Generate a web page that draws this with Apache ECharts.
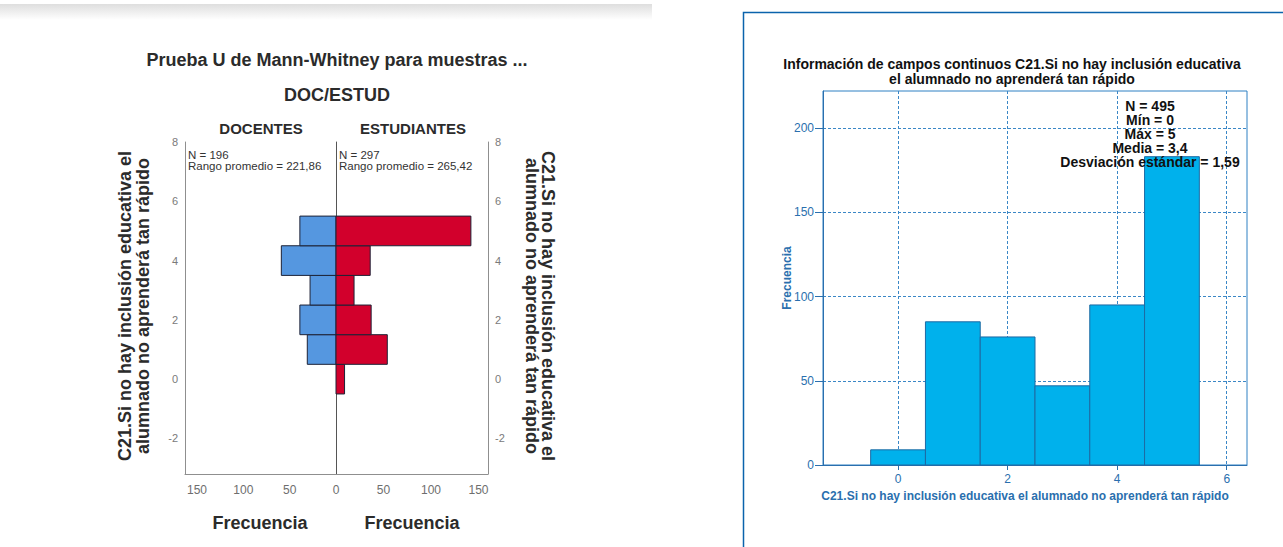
<!DOCTYPE html>
<html><head><meta charset="utf-8">
<script src="https://cdn.jsdelivr.net/npm/echarts@6/dist/echarts.min.js"></script>
<style>html,body{margin:0;padding:0;background:#fff}#c{width:1283px;height:547px}</style>
</head><body><div id="c"></div>
<script>
// ---- data ----
const values = [0, 1, 2, 3, 4, 5];
const docentes = [0, 31, 39, 28, 59, 39];
const estudiantes = [9, 54, 37, 19, 36, 142];
const histCounts = [9, 85, 76, 47, 95, 183];
const pyrFreqTicks = [0, 50, 100, 150];
const pyrValueTicks = [-2, 0, 2, 4, 6, 8];
const histXTicks = [0, 2, 4, 6];
const histYTicks = [0, 50, 100, 150, 200];
const statsLines = ['N = 495', 'Mín = 0', 'Máx = 5', 'Media = 3,4', 'Desviación estándar = 1,59'];
const groupNames = ['DOCENTES', 'ESTUDIANTES'];
const groupStats = ['N = 196\nRango promedio = 221,86', 'N = 297\nRango promedio = 265,42'];
const varName = 'C21.Si no hay inclusión educativa el alumnado no aprenderá tan rápido';

const FF = '"Liberation Sans", Arial, Helvetica, sans-serif';
const chart = echarts.init(document.getElementById('c'), null, {renderer: 'svg'});

function pyrRender(fill) {
  return function (params, api) {
    const v = api.value(0), c = api.value(1);
    if (!v) return;
    const a = api.coord([0, c - 0.5]);
    const b = api.coord([v, c + 0.5]);
    return {type: 'rect', shape: {x: Math.min(a[0], b[0]), y: Math.min(a[1], b[1]),
      width: Math.abs(b[0] - a[0]), height: Math.abs(b[1] - a[1])},
      style: {fill: fill, stroke: '#1d2236', lineWidth: 1}};
  };
}
function histRender(params, api) {
  const c = api.value(0), v = api.value(1);
  if (!v) return;
  const a = api.coord([c - 0.5, 0]);
  const b = api.coord([c + 0.5, v]);
  return {type: 'rect', shape: {x: Math.min(a[0], b[0]), y: Math.min(a[1], b[1]),
    width: Math.abs(b[0] - a[0]), height: Math.abs(b[1] - a[1])},
    style: {fill: '#00b1ec', stroke: '#1d6aa3', lineWidth: 1}};
}

function txt(text, x, y, font, fill, extra) {
  return Object.assign({type: 'text', x: x, y: y, silent: true,
    style: Object.assign({text: text, x: 0, y: 0, font: font, fill: fill,
      align: 'center', verticalAlign: 'middle', textAlign: 'center', textVerticalAlign: 'middle'}, extra && extra.style || {})},
    extra && extra.el || {});
}

const gray = '#8f8f8f';
const blue = '#2a6fae';
const nameLines = 'C21.Si no hay inclusión educativa el\nalumnado no aprenderá tan rápido';

const option = {
  animation: false,
  grid: [
    {left: 185, top: 142, width: 151, height: 332},
    {left: 336, top: 142, width: 152, height: 332},
    {left: 823, top: 91, width: 424, height: 374, show: true, borderColor: '#2f80c3', borderWidth: 1}
  ],
  xAxis: [
    {gridIndex: 0, type: 'value', inverse: true, min: 0, max: 163,
      axisLine: {show: true, onZero: false, lineStyle: {color: gray}}, axisTick: {show: false}, splitLine: {show: false},
      axisLabel: {customValues: pyrFreqTicks, color: '#6e6e6e', fontSize: 12, margin: 10, fontFamily: FF}},
    {gridIndex: 1, type: 'value', min: 0, max: 160,
      axisLine: {show: true, onZero: false, lineStyle: {color: gray}}, axisTick: {show: false}, splitLine: {show: false},
      axisLabel: {customValues: pyrFreqTicks.slice(1), color: '#6e6e6e', fontSize: 12, margin: 10, fontFamily: FF}},
    {gridIndex: 2, type: 'value', min: -1.37, max: 6.37,
      axisLine: {show: true, onZero: false, lineStyle: {color: blue}},
      axisTick: {show: true, customValues: histXTicks, length: 5, lineStyle: {color: blue}},
      axisLabel: {customValues: histXTicks, color: blue, fontSize: 12, margin: 8, fontFamily: FF},
      splitLine: {show: true, lineStyle: {color: '#3b87c6', type: [3, 2], width: 1}}}
  ],
  yAxis: [
    {gridIndex: 0, type: 'value', position: 'left', min: -3.2, max: 8,
      axisLine: {show: true, onZero: false, lineStyle: {color: gray}}, axisTick: {show: false}, splitLine: {show: false},
      axisLabel: {customValues: pyrValueTicks, color: '#7a7a7a', fontSize: 11, margin: 7, fontFamily: FF}},
    {gridIndex: 0, type: 'value', position: 'right', min: -3.2, max: 8,
      axisLine: {show: true, onZero: false, lineStyle: {color: '#555'}}, axisTick: {show: false}, splitLine: {show: false},
      axisLabel: {show: false}},
    {gridIndex: 1, type: 'value', position: 'right', min: -3.2, max: 8,
      axisLine: {show: true, onZero: false, lineStyle: {color: gray}}, axisTick: {show: false}, splitLine: {show: false},
      axisLabel: {customValues: pyrValueTicks, color: '#7a7a7a', fontSize: 11, margin: 7, fontFamily: FF}},
    {gridIndex: 2, type: 'value', min: 0, max: 222, interval: 50,
      axisLine: {show: true, onZero: false, lineStyle: {color: blue}},
      axisTick: {show: true, customValues: histYTicks, length: 8, lineStyle: {color: blue}},
      axisLabel: {customValues: histYTicks, color: blue, fontSize: 12, margin: 9, fontFamily: FF},
      splitLine: {show: true, lineStyle: {color: '#3b87c6', type: [3, 2], width: 1}}}
  ],
  series: [
    {type: 'custom', xAxisIndex: 0, yAxisIndex: 0, renderItem: pyrRender('#5597e0'),
      encode: {x: 0, y: 1}, data: values.map((v, i) => [docentes[i], v]), z: 3},
    {type: 'custom', xAxisIndex: 1, yAxisIndex: 2, renderItem: pyrRender('#d2002c'),
      encode: {x: 0, y: 1}, data: values.map((v, i) => [estudiantes[i], v]), z: 3},
    {type: 'custom', xAxisIndex: 2, yAxisIndex: 3, renderItem: histRender,
      encode: {x: 0, y: 1}, data: values.map((v, i) => [v, histCounts[i]]), z: 3}
  ],
  graphic: [
    {type: 'rect', shape: {x: 0, y: 4, width: 652, height: 16}, silent: true, z: -1,
      style: {fill: {type: 'linear', x: 0, y: 0, x2: 0, y2: 1,
        colorStops: [{offset: 0, color: '#dedede'}, {offset: 1, color: '#ffffff'}]}}},
    {type: 'polyline', silent: true, shape: {points: [[743.5, 547], [743.5, 12.5], [1283, 12.5]]},
      style: {stroke: '#0b63ac', lineWidth: 1.5, fill: null}},
    // left chart texts
    txt('Prueba U de Mann-Whitney para muestras ...', 337, 60, 'bold 18px ' + FF, '#2b2b2b'),
    txt('DOC/ESTUD', 337, 95, 'bold 18px ' + FF, '#2b2b2b'),
    txt(groupNames[0], 261, 128, 'bold 15px ' + FF, '#2b2b2b'),
    txt(groupNames[1], 413, 128, 'bold 15px ' + FF, '#2b2b2b'),
    txt(groupStats[0], 188, 149, '11.5px ' + FF, '#333', {style: {align: 'left', textAlign: 'left', verticalAlign: 'top', textVerticalAlign: 'top', lineHeight: 11}}),
    txt(groupStats[1], 339, 149, '11.5px ' + FF, '#333', {style: {align: 'left', textAlign: 'left', verticalAlign: 'top', textVerticalAlign: 'top', lineHeight: 11}}),
    txt(nameLines, 134, 306, 'bold 18px ' + FF, '#2b2b2b', {style: {lineHeight: 18}, el: {rotation: Math.PI / 2}}),
    txt(nameLines, 540, 306, 'bold 18px ' + FF, '#2b2b2b', {style: {lineHeight: 16}, el: {rotation: -Math.PI / 2}}),
    txt('Frecuencia', 260, 523, 'bold 18px ' + FF, '#2b2b2b'),
    txt('Frecuencia', 412, 523, 'bold 18px ' + FF, '#2b2b2b'),
    // right chart texts
    txt('Información de campos continuos C21.Si no hay inclusión educativa\nel alumnado no aprenderá tan rápido', 1012, 71, 'bold 14px ' + FF, '#111', {style: {lineHeight: 15}}),
    txt(statsLines.join('\n'), 1150, 134, 'bold 14px ' + FF, '#111', {style: {lineHeight: 14}, el: {z: 10}}),
    txt(varName, 1025, 496, 'bold 12px ' + FF, blue),
    txt('Frecuencia', 787, 278, 'bold 12px ' + FF, blue, {el: {rotation: Math.PI / 2}})
  ]
};
chart.setOption(option);
</script>
</body></html>
